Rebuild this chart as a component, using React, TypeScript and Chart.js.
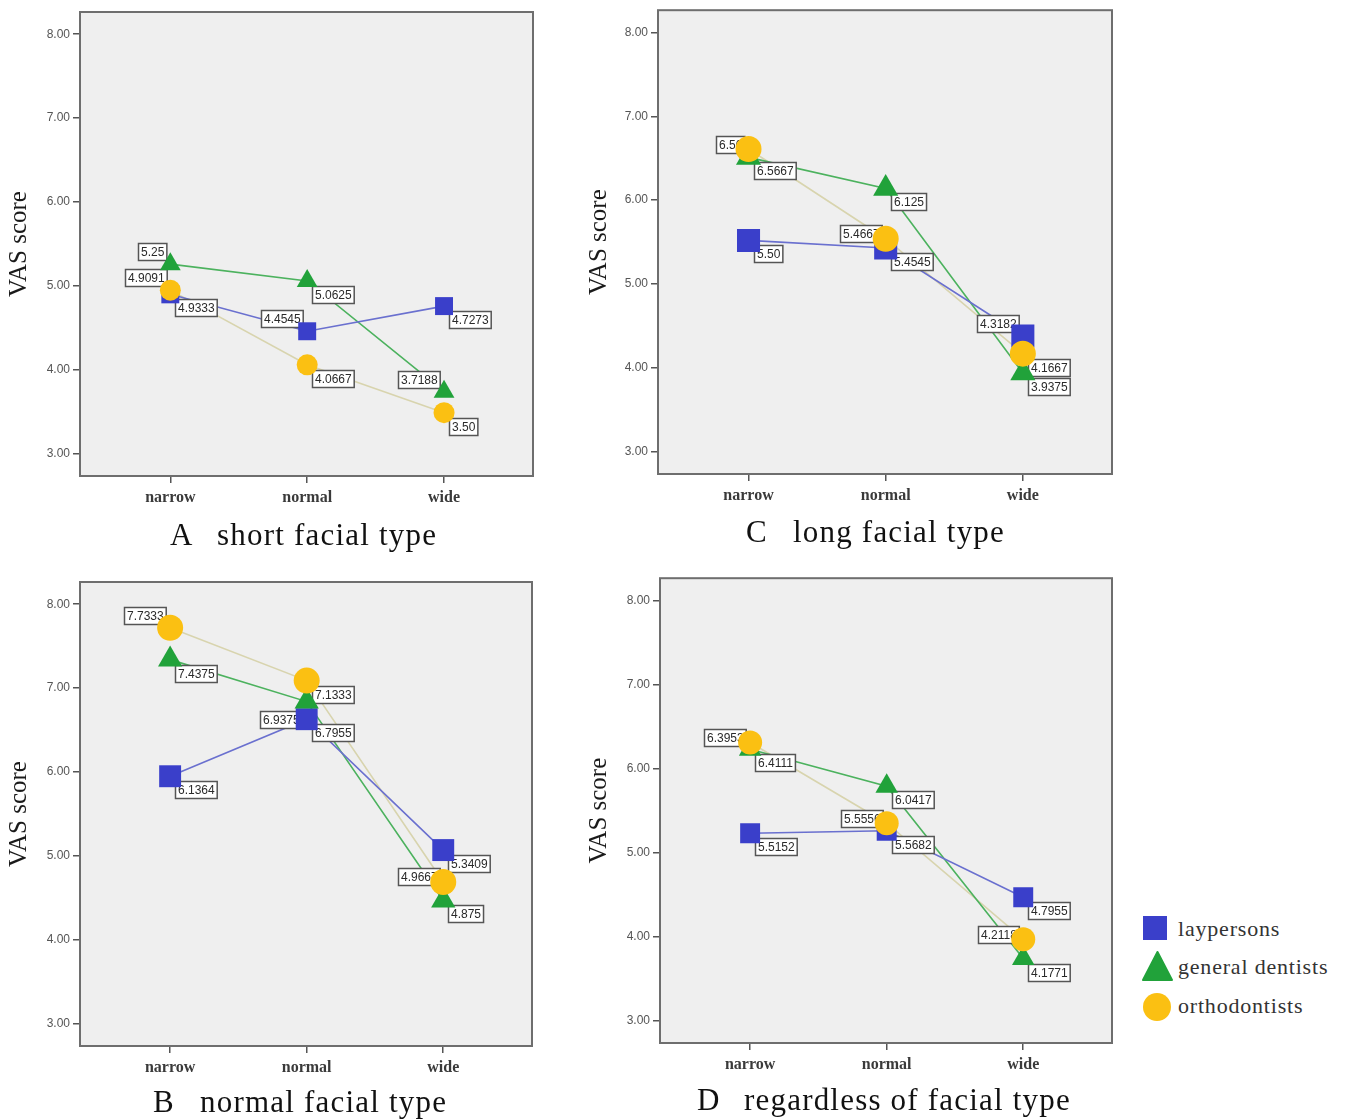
import React, { useEffect, useRef } from 'react';
import { Chart, registerables } from 'chart.js';

Chart.register(...registerables);

// ---------- data ----------
const categories = ['narrow', 'normal', 'wide'];
const yTickValues = [3, 4, 5, 6, 7, 8];
const seriesNames = ['laypersons', 'general dentists', 'orthodontists'];

// A short facial type
const shortLay = [4.9, 4.46, 4.76];
const shortGen = [5.26, 5.06, 3.74];
const shortOrtho = [4.95, 4.06, 3.49];
const shortLayLabels = ['4.9333', '4.4545', '4.7273'];
const shortGenLabels = ['5.25', '5.0625', '3.7188'];
const shortOrthoLabels = ['4.9091', '4.0667', '3.50'];

// C long facial type
const longLay = [5.52, 5.43, 4.38];
const longGen = [6.51, 6.14, 3.94];
const longOrtho = [6.61, 5.54, 4.17];
const longLayLabels = ['5.50', '5.4545', '4.3182'];
const longGenLabels = ['6.5667', '6.125', '3.9375'];
const longOrthoLabels = ['6.50', '5.4667', '4.1667'];

// B normal facial type
const normalLay = [5.95, 6.63, 5.07];
const normalGen = [7.34, 6.84, 4.47];
const normalOrtho = [7.72, 7.09, 4.69];
const normalLayLabels = ['6.1364', '6.7955', '5.3409'];
const normalGenLabels = ['7.4375', '6.9375', '4.875'];
const normalOrthoLabels = ['7.7333', '7.1333', '4.9667'];

// D regardless of facial type
const allLay = [5.23, 5.26, 4.47];
const allGen = [6.23, 5.79, 3.74];
const allOrtho = [6.31, 5.35, 3.97];
const allLayLabels = ['5.5152', '5.5682', '4.7955'];
const allGenLabels = ['6.4111', '6.0417', '4.1771'];
const allOrthoLabels = ['6.3953', '5.5556', '4.2118'];

// ---------- styles ----------
const markerColors = ['#3a3fca', '#21a23a', '#fbc012'];
const lineColors = ['#6a70cf', '#4cb25e', '#d8d4ae'];
const pointStyles = ['rect', 'triangle', 'circle'];

type Placement = 'rb' | 'la' | 'l' | 'lb';

interface PanelCfg {
  key: string;
  letter: string;
  title: string;
  left: number;
  top: number;
  width: number;
  height: number;
  yAxisWidth: number;
  padTop: number;
  padRight: number;
  xAxisHeight: number;
  series: number[][];
  labels: string[][];
  placements: Placement[][];
  radii: number[];
  titleLeft: number;
  titleBaseline: number;
}

const panels: PanelCfg[] = [
  {
    key: 'A', letter: 'A', title: 'short facial type',
    left: 0, top: 0, width: 545, height: 520,
    yAxisWidth: 80, padTop: 12, padRight: 12, xAxisHeight: 44,
    series: [shortLay, shortGen, shortOrtho],
    labels: [shortLayLabels, shortGenLabels, shortOrthoLabels],
    placements: [['rb', 'la', 'rb'], ['la', 'rb', 'la'], ['la', 'rb', 'rb']],
    radii: [12.7, 12, 10.5],
    titleLeft: 170, titleBaseline: 545,
  },
  {
    key: 'C', letter: 'C', title: 'long facial type',
    left: 580, top: 0, width: 545, height: 520,
    yAxisWidth: 78, padTop: 10, padRight: 13, xAxisHeight: 46,
    series: [longLay, longGen, longOrtho],
    labels: [longLayLabels, longGenLabels, longOrthoLabels],
    placements: [['rb', 'rb', 'la'], ['rb', 'rb', 'rb'], ['l', 'l', 'rb']],
    radii: [16.3, 14.5, 13],
    titleLeft: 746, titleBaseline: 542,
  },
  {
    key: 'B', letter: 'B', title: 'normal facial type',
    left: 0, top: 570, width: 545, height: 520,
    yAxisWidth: 80, padTop: 12, padRight: 13, xAxisHeight: 44,
    series: [normalLay, normalGen, normalOrtho],
    labels: [normalLayLabels, normalGenLabels, normalOrthoLabels],
    placements: [['rb', 'rb', 'rb'], ['rb', 'lb', 'rb'], ['la', 'rb', 'l']],
    radii: [15.5, 14, 13],
    titleLeft: 153, titleBaseline: 1112,
  },
  {
    key: 'D', letter: 'D', title: 'regardless of facial type',
    left: 580, top: 568, width: 545, height: 520,
    yAxisWidth: 80, padTop: 10, padRight: 13, xAxisHeight: 45,
    series: [allLay, allGen, allOrtho],
    labels: [allLayLabels, allGenLabels, allOrthoLabels],
    placements: [['rb', 'rb', 'rb'], ['rb', 'rb', 'rb'], ['l', 'l', 'l']],
    radii: [14.1, 13, 12],
    titleLeft: 697, titleBaseline: 1110,
  },
];

// ---------- plugins ----------
const framePlugin = {
  id: 'frame',
  beforeDraw(chart: any) {
    const { ctx, chartArea: a } = chart;
    ctx.save();
    ctx.fillStyle = '#efefef';
    ctx.fillRect(a.left, a.top, a.right - a.left, a.bottom - a.top);
    ctx.restore();
  },
  beforeDatasetsDraw(chart: any) {
    const { ctx, chartArea: a } = chart;
    ctx.save();
    ctx.strokeStyle = '#6e6e6e';
    ctx.lineWidth = 2;
    ctx.strokeRect(a.left, a.top, a.right - a.left, a.bottom - a.top);
    ctx.restore();
    chart.$boxLabelsDone = false;
  },
};

const boxLabelPlugin = {
  id: 'boxLabels',
  beforeDatasetDraw(chart: any, args: any, opts: any) {
    const ds = chart.data.datasets[args.index];
    if (ds.showLine !== false || chart.$boxLabelsDone) return;
    chart.$boxLabelsDone = true;
    const { ctx } = chart;
    const labels: string[][] = opts.labels;
    const placements: Placement[][] = opts.placements;
    ctx.save();
    ctx.font = '12px "Liberation Sans", Arial, sans-serif';
    ctx.textBaseline = 'middle';
    ctx.textAlign = 'left';
    const h = 17;
    for (let s = 0; s < labels.length; s++) {
      const meta = chart.getDatasetMeta(labels.length + s);
      labels[s].forEach((txt, i) => {
        const el = meta.data[i];
        if (!el) return;
        const px = el.x;
        const py = el.y;
        const w = ctx.measureText(txt).width + 5;
        let x = 0;
        let y = 0;
        const p = placements[s][i];
        if (p === 'rb') { x = px + 5; y = py + 5; }
        else if (p === 'la') { x = px - 4 - w; y = py - 4 - h; }
        else if (p === 'l') { x = px - 4 - w; y = py - 5 - h / 2; }
        else { x = px - 5 - w; y = py + 9; }
        x = Math.round(x) + 0.5;
        y = Math.round(y) + 0.5;
        ctx.fillStyle = '#ffffff';
        ctx.fillRect(x, y, w, h);
        ctx.strokeStyle = '#555555';
        ctx.lineWidth = 1.5;
        ctx.strokeRect(x, y, w, h);
        ctx.fillStyle = '#2a2a2a';
        ctx.fillText(txt, x + 2.5, y + h / 2 + 1);
      });
    }
    ctx.restore();
  },
};

function Panel({ cfg }: { cfg: PanelCfg }) {
  const ref = useRef<HTMLCanvasElement>(null);
  useEffect(() => {
    if (!ref.current) return;
    const datasets: any[] = [];
    cfg.series.forEach((vals, s) => {
      datasets.push({
        label: seriesNames[s] + ' line',
        data: vals.map((v, i) => ({ x: i, y: v })),
        borderColor: lineColors[s],
        borderWidth: 1.6,
        pointRadius: 0,
        tension: 0,
        fill: false,
        order: 10,
      });
    });
    cfg.series.forEach((vals, s) => {
      datasets.push({
        label: seriesNames[s],
        data: vals.map((v, i) => ({ x: i, y: v })),
        showLine: false,
        pointStyle: pointStyles[s],
        pointRadius: cfg.radii[s],
        pointBackgroundColor: markerColors[s],
        pointBorderColor: markerColors[s],
        pointBorderWidth: 0,
        order: 3 - s,
      });
    });
    const gridOpts = {
      display: true,
      drawOnChartArea: false,
      drawTicks: true,
      tickLength: 7,
      color: '#555',
      lineWidth: 1.5,
    };
    const chart = new Chart(ref.current, {
      type: 'line',
      data: { datasets },
      options: {
        animation: false,
        responsive: false,
        devicePixelRatio: 1,
        events: [],
        layout: {
          padding: { left: 0, top: cfg.padTop, right: cfg.padRight, bottom: 0 },
          autoPadding: false,
        } as any,
        plugins: {
          legend: { display: false },
          tooltip: { enabled: false },
          boxLabels: { labels: cfg.labels, placements: cfg.placements },
        } as any,
        scales: {
          x: {
            type: 'linear',
            min: -0.66,
            max: 2.65,
            afterBuildTicks: (sc: any) => {
              sc.ticks = categories.map((_, i) => ({ value: i }));
            },
            afterFit: (sc: any) => {
              sc.height = cfg.xAxisHeight;
            },
            grid: gridOpts,
            border: { display: false },
            ticks: {
              callback: (v: any) => categories[Number(v)],
              font: { family: '"Liberation Serif", serif', size: 16, weight: 'bold' },
              color: '#3a3a3a',
              padding: 5,
              maxRotation: 0,
              autoSkip: false,
            },
          },
          y: {
            type: 'linear',
            min: 2.735,
            max: 8.265,
            afterBuildTicks: (sc: any) => {
              sc.ticks = yTickValues.map((v) => ({ value: v }));
            },
            afterFit: (sc: any) => {
              sc.width = cfg.yAxisWidth;
            },
            grid: gridOpts,
            border: { display: false },
            ticks: {
              callback: (v: any) => Number(v).toFixed(2),
              font: { family: '"Liberation Sans", Arial, sans-serif', size: 12 },
              color: '#555',
              padding: 3,
            },
            title: {
              display: true,
              text: 'VAS score',
              font: { family: '"Liberation Serif", serif', size: 25 },
              color: '#1a1a1a',
              padding: { top: 4, bottom: 0 },
            },
          },
        } as any,
      },
      plugins: [framePlugin, boxLabelPlugin],
    } as any);
    return () => chart.destroy();
  }, [cfg]);

  return (
    <>
      <canvas
        ref={ref}
        width={cfg.width}
        height={cfg.height}
        style={{ position: 'absolute', left: cfg.left, top: cfg.top, width: cfg.width, height: cfg.height }}
      />
      <div
        style={{
          position: 'absolute',
          left: cfg.titleLeft,
          top: cfg.titleBaseline - 25.5,
          font: '31px "Liberation Serif", serif',
          lineHeight: '30px',
          color: '#111',
          whiteSpace: 'nowrap',
        }}
      >
        {cfg.letter}
      </div>
      <div
        style={{
          position: 'absolute',
          left: cfg.titleLeft + 47,
          top: cfg.titleBaseline - 25.5,
          font: '31px "Liberation Serif", serif',
          lineHeight: '30px',
          letterSpacing: '1.2px',
          color: '#111',
          whiteSpace: 'nowrap',
        }}
      >
        {cfg.title}
      </div>
    </>
  );
}

function Legend() {
  const textStyle = (top: number): React.CSSProperties => ({
    position: 'absolute',
    left: 1178,
    top,
    font: '22px "Liberation Serif", serif',
    lineHeight: '22px',
    letterSpacing: '0.8px',
    color: '#333',
    whiteSpace: 'nowrap',
  });
  return (
    <>
      <svg
        width={40}
        height={120}
        style={{ position: 'absolute', left: 1135, top: 905 }}
      >
        <rect x={8} y={11} width={24} height={24} fill={markerColors[0]} />
        <polygon points="22.5,47 8,75 37,75" fill={markerColors[1]} stroke={markerColors[1]} strokeWidth={2} strokeLinejoin="round" />
        <circle cx={22} cy={102} r={14} fill={markerColors[2]} />
      </svg>
      <div style={textStyle(918)}>{seriesNames[0]}</div>
      <div style={textStyle(956)}>{seriesNames[1]}</div>
      <div style={textStyle(995)}>{seriesNames[2]}</div>
    </>
  );
}

export default function App() {
  return (
    <div
      style={{
        position: 'absolute',
        left: 0,
        top: 0,
        width: 1347,
        height: 1119,
        background: '#ffffff',
        overflow: 'hidden',
      }}
    >
      {panels.map((p) => (
        <Panel key={p.key} cfg={p} />
      ))}
      <Legend />
    </div>
  );
}
